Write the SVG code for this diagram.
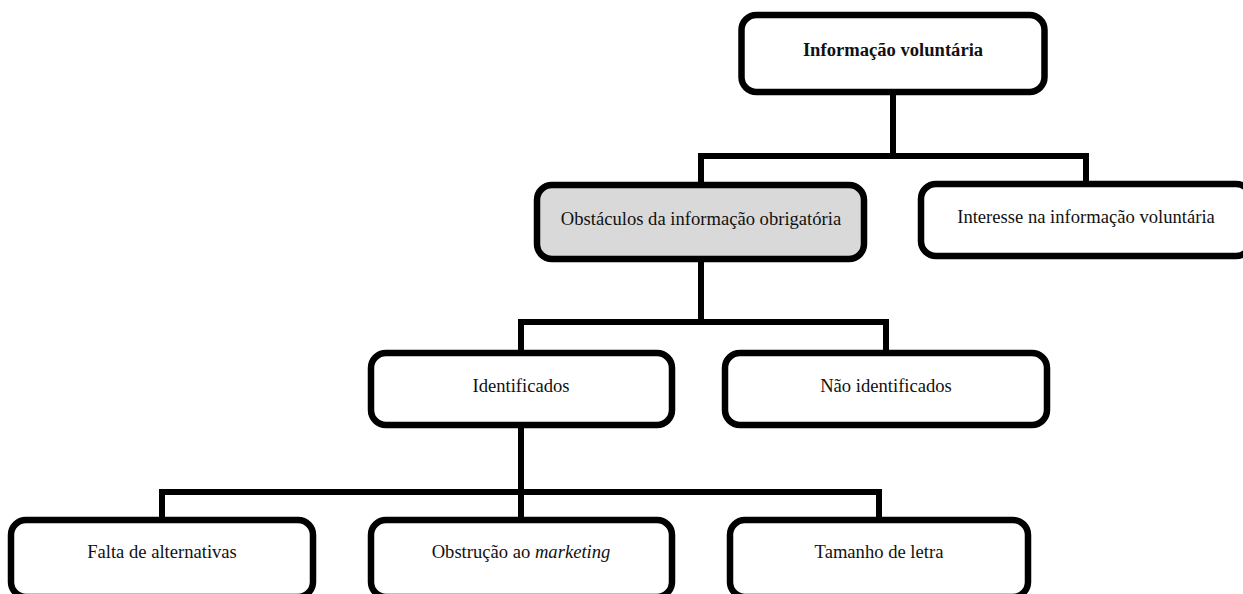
<svg xmlns="http://www.w3.org/2000/svg" width="1243" height="594" viewBox="0 0 1243 594">
  <style>
    .box { fill: #ffffff; stroke: #000000; stroke-width: 6.5; }
    .box.hl { fill: #d9d9d9; }
    .lbl { font-family: "Liberation Serif", "Times New Roman", serif; font-size: 18.6px; fill: #111111; text-anchor: middle; }
    .lbl.b { font-weight: bold; }
    .wire { fill: none; stroke: #000000; stroke-width: 6; stroke-linejoin: miter; stroke-linecap: butt; }
  </style>
  <rect width="1243" height="594" fill="#ffffff"/>

  <!-- connectors -->
  <g id="connectors">
    <path class="wire" d="M893,92 V156 M701,185 V156 H1086 V184"/>
    <path class="wire" d="M701,259 V322 M521,353 V322 H886 V353"/>
    <path class="wire" d="M521,425 V520 M162,520 V492 H879 V520"/>
  </g>

  <!-- level 0 -->
  <g id="n-informacao-voluntaria">
    <rect class="box" x="741.5" y="15" width="303" height="77" rx="15"/>
    <text class="lbl b" x="893" y="56">Informação voluntária</text>
  </g>

  <!-- level 1 -->
  <g id="n-obstaculos">
    <rect class="box hl" x="537" y="185" width="327" height="74" rx="15"/>
    <text class="lbl" x="701" y="225">Obstáculos da informação obrigatória</text>
  </g>
  <g id="n-interesse">
    <rect class="box" x="921" y="184" width="330" height="72" rx="15"/>
    <text class="lbl" x="1086" y="223">Interesse na informação voluntária</text>
  </g>

  <!-- level 2 -->
  <g id="n-identificados">
    <rect class="box" x="371" y="353" width="301" height="72" rx="15"/>
    <text class="lbl" x="521" y="392">Identificados</text>
  </g>
  <g id="n-nao-identificados">
    <rect class="box" x="725" y="353" width="322" height="72" rx="15"/>
    <text class="lbl" x="886" y="392">Não identificados</text>
  </g>

  <!-- level 3 -->
  <g id="n-falta-alternativas">
    <rect class="box" x="11" y="520" width="302" height="77" rx="15"/>
    <text class="lbl" x="162" y="558">Falta de alternativas</text>
  </g>
  <g id="n-obstrucao-marketing">
    <rect class="box" x="371" y="520" width="301" height="77" rx="15"/>
    <text class="lbl" x="521" y="558">Obstrução ao <tspan font-style="italic">marketing</tspan></text>
  </g>
  <g id="n-tamanho-letra">
    <rect class="box" x="730" y="520" width="298" height="77" rx="15"/>
    <text class="lbl" x="879" y="558">Tamanho de letra</text>
  </g>
</svg>
